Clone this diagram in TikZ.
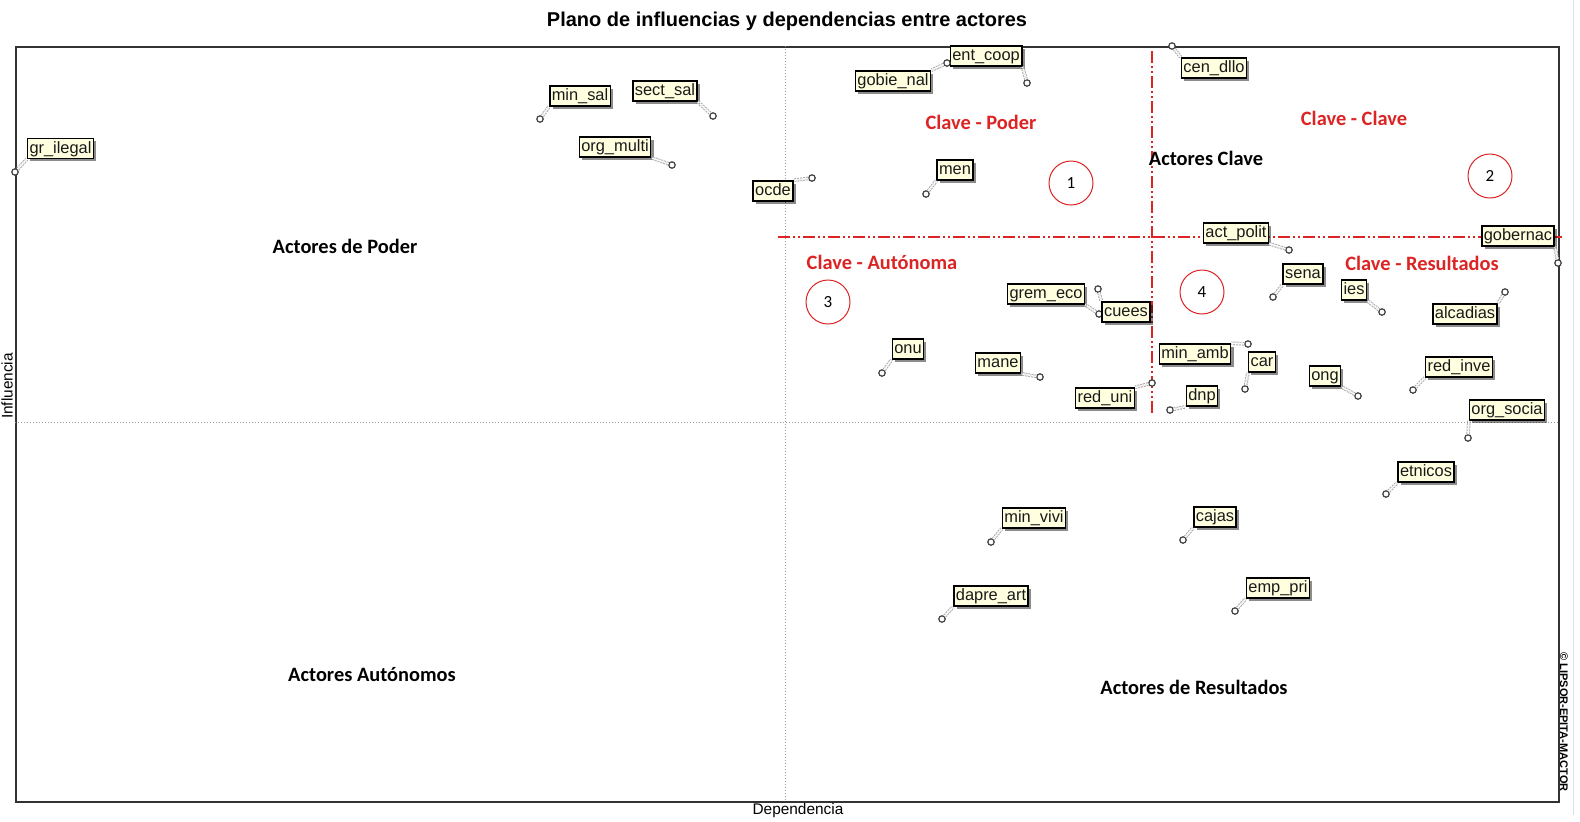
\documentclass[tikz,border=0pt]{standalone}
\usepackage{fontspec}
\setmainfont{Liberation Sans}
\newfontfamily\calib{Carlito}
\usetikzlibrary{shadows}
\definecolor{kred}{RGB}{220,36,36}
\definecolor{cream}{RGB}{255,255,224}
\tikzset{
  actorbox/.style={draw=black, line width=0.75pt, fill=cream, text=black!90,
    font=\fontsize{8.2}{9}\selectfont, inner xsep=1pt, inner ysep=0pt,
    text height=6.4pt, text depth=1.9pt, minimum height=10pt,
    drop shadow={shadow xshift=1.4pt, shadow yshift=-1.4pt, fill=black, opacity=0.45}},
  actpt/.style={circle, draw=black!75, line width=0.6pt, fill=white, inner sep=0pt, minimum size=3.2pt},
  leader/.style={draw=gray!65, line width=0.5pt, double=white, double distance=0.8pt, dash pattern=on 1pt off 0.5pt},
  redtxt/.style={text=kred, font=\calib\bfseries\fontsize{10.2}{12}\selectfont},
  blktxt/.style={text=black, font=\calib\bfseries\fontsize{10.2}{12}\selectfont},
  numcirc/.style={circle, draw=kred, line width=0.5pt, minimum size=22pt, inner sep=0pt,
    font=\calib\fontsize{8.5}{10}\selectfont},
  redline/.style={draw=kred, line width=0.75pt, dash pattern=on 6pt off 1.5pt on 1pt off 1.5pt on 1pt off 1.5pt},
  axisline/.style={draw=gray!80, line width=0.5pt, densely dotted},
}
\newcommand\actor[7]{%
  \node[actorbox] (n#1) at (#3,#4) {#2};
  \node[actpt] (p#1) at (#5,#6) {};
  \draw[leader] (p#1) -- (n#1.#7);
}
\begin{document}
\begin{tikzpicture}[x=0.5pt,y=-0.5pt]
\useasboundingbox (0,0) rectangle (1580,821);
\fill[white] (0,0) rectangle (1580,821);
% faint window line
\coordinate (wl1) at (1573,0);
\coordinate (wl2) at (1573,815);
\draw[gray!25, line width=0.5pt] (wl1) -- (wl2);
% title
\node[font=\bfseries\fontsize{10}{12}\selectfont] (title) at (787,21) {Plano de influencias y dependencias entre actores};
% frame
\node[draw=black!80, line width=0.75pt, minimum width=771.5pt, minimum height=377.5pt, inner sep=0pt, anchor=north west] (frame) at (15,46) {};
% axes
\coordinate (vt) at (785,46);
\coordinate (vb) at (785,801);
\coordinate (hl) at (15,422);
\coordinate (hr) at (1558,422);
\draw[axisline] (vt) -- (vb);
\draw[axisline] (hl) -- (hr);
% red dash-dot lines
\coordinate (rvt) at (1152,51);
\coordinate (rvb) at (1152,415);
\coordinate (rhl) at (778,237);
\coordinate (rhr) at (1562,237);
\draw[redline] (rvt) -- (rvb);
\draw[redline] (rhl) -- (rhr);
% axis titles
\node[font=\fontsize{7.7}{9}\selectfont] (dep) at (798,811) {Dependencia};
\node[font=\fontsize{7.7}{9}\selectfont, rotate=90] (inf) at (7,386) {Influencia};
\node[font=\bfseries\fontsize{5.5}{6}\selectfont, rotate=-90] (copy) at (1564,722) {© LIPSOR-EPITA-MACTOR};
% quadrant labels
\node[blktxt] (qpod) at (345,246) {Actores de Poder};
\node[blktxt] (qcla) at (1206,158) {Actores Clave};
\node[blktxt] (qaut) at (372,675) {Actores Autónomos};
\node[blktxt] (qres) at (1194,687) {Actores de Resultados};
\node[redtxt] (rpod) at (981,122) {Clave - Poder};
\node[redtxt] (rcla) at (1354,118) {Clave - Clave};
\node[redtxt] (raut) at (882,262) {Clave - Autónoma};
\node[redtxt] (rres) at (1422,263) {Clave - Resultados};
\node[numcirc] (c1) at (1071,183) {1};
\node[numcirc] (c2) at (1490,176) {2};
\node[numcirc] (c3) at (828,302) {3};
\node[numcirc] (c4) at (1202,292) {4};
% actors
\actor{grilegal}{gr\_ilegal}{60.5}{148.5}{15}{172}{south west}
\actor{minsal}{min\_sal}{580}{96}{540}{119}{south west}
\actor{sectsal}{sect\_sal}{665}{91}{713}{116}{south east}
\actor{orgmulti}{org\_multi}{615}{147}{672}{165}{south east}
\actor{ocde}{ocde}{773}{191}{812}{178}{north east}
\actor{entcoop}{ent\_coop}{986}{56}{1027}{83}{south east}
\actor{gobienal}{gobie\_nal}{893}{81}{947}{63}{north east}
\actor{cendllo}{cen\_dllo}{1214}{68}{1172}{46}{north west}
\actor{men}{men}{955}{170}{926}{194}{south west}
\actor{actpolit}{act\_polit}{1236}{233}{1289}{250}{south east}
\actor{gobernac}{gobernac}{1518}{236}{1558}{263}{south east}
\actor{sena}{sena}{1303}{274}{1273}{297}{south west}
\actor{ies}{ies}{1354}{290}{1382}{312}{south east}
\actor{alcadias}{alcadias}{1465}{314}{1505}{292}{north east}
\actor{gremeco}{grem\_eco}{1046}{294}{1099}{314}{south east}
\actor{cuees}{cuees}{1126}{312}{1098}{289}{north west}
\actor{onu}{onu}{908}{349}{882}{373}{south west}
\actor{mane}{mane}{998}{363}{1040}{377}{south east}
\actor{reduni}{red\_uni}{1105}{398}{1152}{383}{north east}
\actor{minamb}{min\_amb}{1195}{354}{1248}{344}{north east}
\actor{car}{car}{1262}{362}{1245}{389}{south west}
\actor{dnp}{dnp}{1202}{396}{1170}{410}{south west}
\actor{ong}{ong}{1325}{376}{1358}{396}{south east}
\actor{redinve}{red\_inve}{1459}{367}{1413}{390}{south west}
\actor{orgsocia}{org\_socia}{1507}{410}{1468}{438}{south west}
\actor{etnicos}{etnicos}{1426}{472}{1386}{494}{south west}
\actor{minvivi}{min\_vivi}{1034}{518}{991}{542}{south west}
\actor{cajas}{cajas}{1215}{517}{1183}{540}{south west}
\actor{daprestart}{dapre\_art}{991}{596}{942}{619}{south west}
\actor{emppri}{emp\_pri}{1278}{588}{1235}{611}{south west}
\end{tikzpicture}
\end{document}
